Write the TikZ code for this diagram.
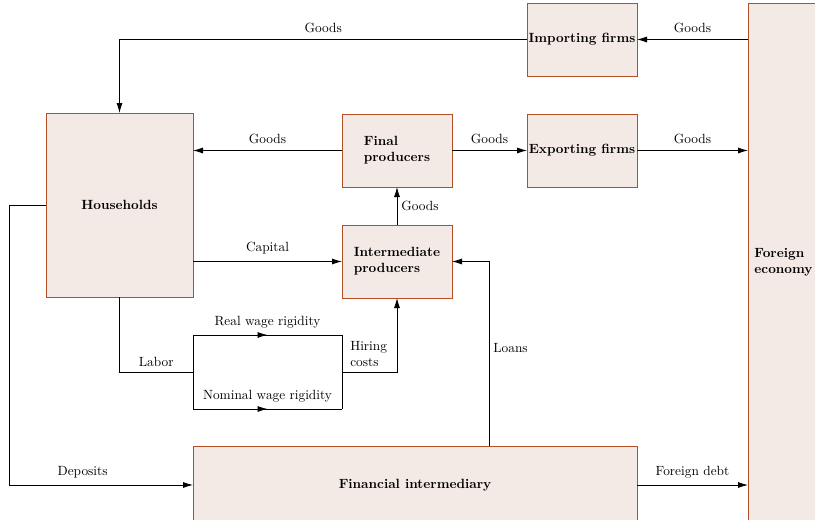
\documentclass[tikz,border=0pt]{standalone}
\usetikzlibrary{arrows.meta,calc}
\definecolor{boxline}{RGB}{180,78,38}
\definecolor{boxfill}{RGB}{243,234,229}
\begin{document}
\begin{tikzpicture}[x=0.75pt,y=-0.75pt,
  box/.style={draw=boxline,fill=boxfill,line width=0.6pt,inner sep=0pt,outer sep=0pt,font=\bfseries,align=left},
  conn/.style={line width=0.6pt,draw=black},
  arr/.style={conn,-{Latex[length=7.5pt,width=4.5pt]}},
  lbl/.style={font=\normalsize,inner sep=2pt}]
\useasboundingbox (0,0) rectangle (815,519);
\clip (0,0) rectangle (815,519);
% boxes
\node[box,minimum width=82.5pt,minimum height=54.75pt] (imp) at (582,39.5) {Importing firms};
\node[box,minimum width=82.5pt,minimum height=54.75pt] (exp) at (582,150.5) {Exporting firms};
\node[box,minimum width=82.5pt,minimum height=54.75pt] (fin) at (397,150.5) {Final\\producers};
\node[box,minimum width=82.5pt,minimum height=54.75pt] (int) at (397,261.5) {Intermediate\\producers};
\node[box,minimum width=110.25pt,minimum height=138pt] (hh) at (119.5,205) {Households};
\node[box,minimum width=333pt,minimum height=58.5pt] (fi) at (415,485) {Financial intermediary};
\node[box,minimum width=53.25pt,minimum height=388.5pt] (for) at (783.5,262) {Foreign\\economy};
% coordinates
\coordinate (dl) at (9,205);
\coordinate (jl) at (193,372);
\coordinate (tl) at (193,335);
\coordinate (tm) at (267.5,335);
\coordinate (tr) at (342,335);
\coordinate (bl) at (193,409);
\coordinate (bm) at (267.5,409);
\coordinate (br) at (342,409);
\coordinate (jr) at (342,372);
\coordinate (lo) at (489,446);
% connectors
\draw[arr] (imp.east -| for.west) -- node[lbl,above=3pt]{Goods} (imp.east);
\draw[arr] (imp.west) -| node[lbl,above=3pt,pos=0.25]{Goods} (hh.north);
\draw[arr] (fin.west) -- node[lbl,above=3pt]{Goods} (fin.west -| hh.east);
\draw[arr] (fin.east) -- node[lbl,above=3pt]{Goods} (exp.west);
\draw[arr] (exp.east) -- node[lbl,above=3pt]{Goods} (exp.east -| for.west);
\draw[arr] (int.north) -- node[lbl,right=1pt]{Goods} (fin.south);
\draw[arr] (int.west -| hh.east) -- node[lbl,above=3pt]{Capital} (int.west);
\draw[arr] (lo) |- node[lbl,right=1pt,pos=0.265]{Loans} (int.east);
\draw[conn] (hh.west) -- (dl);
\draw[arr] (dl) |- node[lbl,above=3pt,pos=0.7]{Deposits} (fi.west);
\draw[arr] (fi.east) -- node[lbl,above=3pt]{Foreign debt} (fi.east -| for.west);
% labor block
\draw[conn] (hh.south) |- node[lbl,above=1.5pt,pos=0.75]{Labor} (jl);
\draw[conn] (tl) -- (bl);
\draw[conn] (tr) -- (br);
\draw[conn] (tl) -- (tr);
\draw[arr] (tl) -- (tm);
\draw[conn] (bl) -- (br);
\draw[arr] (bl) -- (bm);
\node[lbl,above=3pt] at (tm) {Real wage rigidity};
\node[lbl,above=3pt] at (bm) {Nominal wage rigidity};
\draw[arr] (jr) -| (int.south);
\node[lbl,anchor=south west,align=left,inner sep=0pt,xshift=6pt,yshift=4pt] at (jr) {Hiring\\costs};
\end{tikzpicture}
\end{document}
